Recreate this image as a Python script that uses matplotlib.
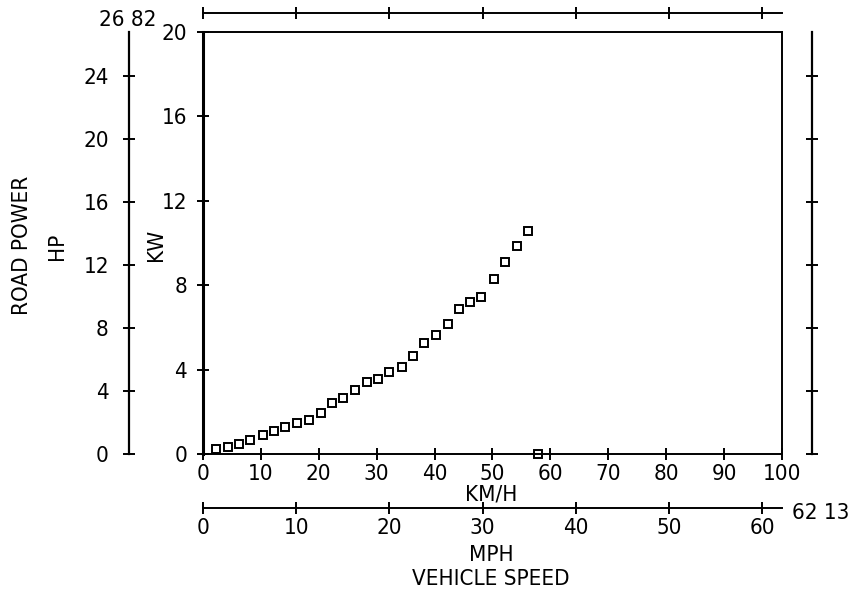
import matplotlib
matplotlib.use("Agg")
import matplotlib.pyplot as plt

plt.rcParams['font.family'] = ['DejaVu Sans']
plt.rcParams['font.stretch'] = 'condensed'

# ---- data ----
speed_kmh = [2.2, 4.3, 6.3, 8.2, 10.3, 12.3, 14.2, 16.2, 18.3, 20.3, 22.3, 24.2,
             26.3, 28.4, 30.3, 32.2, 34.3, 36.3, 38.2, 40.2, 42.3, 44.3, 46.2,
             48.1, 50.2, 52.2, 54.2, 56.2, 57.9]
power_kw = [0.22, 0.35, 0.49, 0.66, 0.88, 1.11, 1.30, 1.49, 1.61, 1.93, 2.40, 2.67,
            3.05, 3.41, 3.54, 3.90, 4.14, 4.64, 5.28, 5.64, 6.15, 6.87, 7.22,
            7.46, 8.28, 9.10, 9.86, 10.58, 0.0]

kmh_ticks = [0, 10, 20, 30, 40, 50, 60, 70, 80, 90, 100]
kw_ticks = [0, 4, 8, 12, 16, 20]
hp_ticks = [0, 4, 8, 12, 16, 20, 24]
mph_ticks = [0, 10, 20, 30, 40, 50, 60]
hp_max_label = "26 82"
mph_max_label = "62 13"

KMH_MAX = 100.0
KW_MAX = 20.0
HP_MAX = KW_MAX / 0.7457
MPH_MAX = KMH_MAX / 1.609344

W, H = 850, 592
fig = plt.figure(figsize=(W / 100, H / 100), dpi=100)

L, R, T, B = 203, 782, 32, 454
ax = fig.add_axes([L / W, 1 - B / H, (R - L) / W, (B - T) / H])
aw, ah = R - L, B - T

FS = 16
tick_kw = dict(direction='inout', length=9, width=1.4, colors='black', labelsize=FS)

# main axes: km/h, kW
ax.set_xlim(0, KMH_MAX)
ax.set_ylim(0, KW_MAX)
ax.set_xticks(kmh_ticks)
ax.set_xticklabels([str(v) for v in kmh_ticks])
ax.set_yticks(kw_ticks)
ax.set_yticklabels([str(v) for v in kw_ticks])
ax.xaxis.set_ticks_position('both')
ax.yaxis.set_ticks_position('both')
ax.tick_params(axis='x', pad=3, labeltop=False, **tick_kw)
ax.tick_params(axis='y', pad=7, labelright=False, **tick_kw)
for s in ax.spines.values():
    s.set_linewidth(1.4)
ax.spines['left'].set_linewidth(2.2)

ax.plot(speed_kmh, power_kw, linestyle='none', marker='s', markersize=6,
        markerfacecolor='none', markeredgecolor='black', markeredgewidth=1.4,
        clip_on=False, zorder=5)

# HP axis (left, offset) and mirror on the right
ax_hp = ax.twinx()
ax_hp.set_ylim(0, HP_MAX)
ax_hp.set_yticks(hp_ticks)
ax_hp.set_yticklabels([str(v) for v in hp_ticks])
ax_hp.yaxis.set_ticks_position('both')
ax_hp.spines['left'].set_position(('axes', -(L - 129) / aw))
ax_hp.spines['right'].set_position(('axes', (812 - L) / aw))
ax_hp.spines['top'].set_visible(False)
ax_hp.spines['bottom'].set_visible(False)
ax_hp.spines['left'].set_linewidth(1.6)
ax_hp.spines['right'].set_linewidth(1.6)
ax_hp.tick_params(axis='y', pad=10, labelleft=True, labelright=False, **tick_kw)

# MPH axis (bottom, offset) and mirror on the top
ax_mph = ax.twiny()
ax_mph.set_xlim(0, MPH_MAX)
ax_mph.set_xticks(mph_ticks)
ax_mph.set_xticklabels([str(v) for v in mph_ticks])
ax_mph.xaxis.set_ticks_position('both')
ax_mph.spines['bottom'].set_position(('axes', -(508 - B) / ah))
ax_mph.spines['top'].set_position(('axes', 1 + (T - 13) / ah))
ax_mph.spines['left'].set_visible(False)
ax_mph.spines['right'].set_visible(False)
ax_mph.spines['bottom'].set_linewidth(1.4)
ax_mph.spines['top'].set_linewidth(1.4)
ax_mph.tick_params(axis='x', pad=3, labelbottom=True, labeltop=False, **tick_kw)


def px(x, y):
    return x / W, 1 - y / H


TFS = 16
fig.text(*px(22, 245), "ROAD POWER", rotation=90, ha='center', va='center', fontsize=TFS)
fig.text(*px(57, 246), "HP", rotation=90, ha='center', va='center', fontsize=TFS)
fig.text(*px(156, 245), "KW", rotation=90, ha='center', va='center', fontsize=TFS)
fig.text(*px(128, 20), hp_max_label, ha='center', va='center', fontsize=FS)
fig.text(*px(491, 494), "KM/H", ha='center', va='center', fontsize=TFS)
fig.text(*px(821, 513), mph_max_label, ha='center', va='center', fontsize=FS)
fig.text(*px(491, 555), "MPH", ha='center', va='center', fontsize=TFS)
fig.text(*px(491, 579), "VEHICLE SPEED", ha='center', va='center', fontsize=TFS)

fig.savefig("out.png", dpi=100)
